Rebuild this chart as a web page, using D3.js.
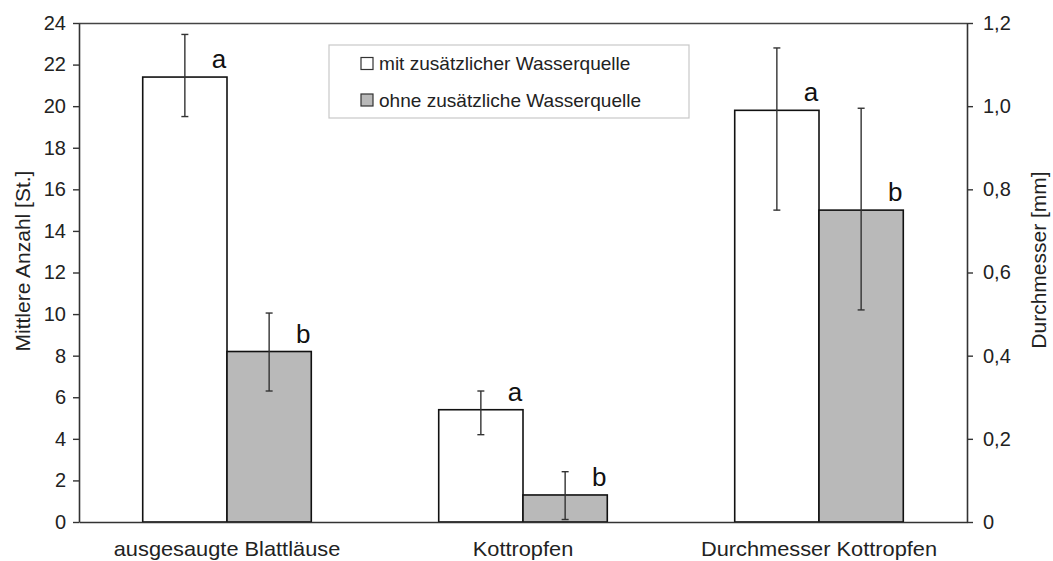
<!DOCTYPE html>
<html>
<head>
<meta charset="utf-8">
<script src="https://cdn.jsdelivr.net/npm/d3@7"></script>
<style>
  body { margin: 0; background: #fff; }
  svg { font-family: "Liberation Sans", Arial, sans-serif; }
</style>
</head>
<body>
<svg id="chart" width="1053" height="561"></svg>
<script>
// chart values
const categories = ["ausgesaugte Blattläuse", "Kottropfen", "Durchmesser Kottropfen"];
const series = ["mit zusätzlicher Wasserquelle", "ohne zusätzliche Wasserquelle"];
const categoryAxis = ["left", "left", "right"];

const withWater = [21.4, 5.4, 0.99];
const withWaterHigh = [23.45, 6.3, 1.14];
const withWaterLow = [19.5, 4.2, 0.75];
const withWaterLetters = ["a", "a", "a"];

const withoutWater = [8.2, 1.3, 0.75];
const withoutWaterHigh = [10.05, 2.42, 0.995];
const withoutWaterLow = [6.3, 0.12, 0.51];
const withoutWaterLetters = ["b", "b", "b"];

const leftTicks = [0, 2, 4, 6, 8, 10, 12, 14, 16, 18, 20, 22, 24];
const rightTicks = [0, 0.2, 0.4, 0.6, 0.8, 1.0, 1.2];

const leftTitle = "Mittlere Anzahl [St.]";
const rightTitle = "Durchmesser [mm]";

const seriesColors = ["#ffffff", "#b9b9b9"];

const svg = d3.select("#chart");
const plotLeft = 79, plotRight = 967, plotTop = 23, plotBottom = 522;

const x0 = d3.scaleBand().domain(categories).range([plotLeft, plotRight]).padding(0);
const x1 = d3.scaleBand().domain(series).range([0, x0.bandwidth()]).paddingInner(0).paddingOuter(0.756);
const yLeft = d3.scaleLinear().domain([0, 24]).range([plotBottom, plotTop]);
const yRight = d3.scaleLinear().domain([0, 1.2]).range([plotBottom, plotTop]);

// one record per bar
const bars = [];
categories.forEach((c, i) => {
    bars.push({cat: c, s: series[0], v: withWater[i], hi: withWaterHigh[i], lo: withWaterLow[i],
        letter: withWaterLetters[i], axis: categoryAxis[i], color: seriesColors[0]});
    bars.push({cat: c, s: series[1], v: withoutWater[i], hi: withoutWaterHigh[i], lo: withoutWaterLow[i],
        letter: withoutWaterLetters[i], axis: categoryAxis[i], color: seriesColors[1]});
});
const yOf = d => d.axis === "right" ? yRight : yLeft;

// top frame line
svg.append("line")
    .attr("x1", plotLeft).attr("x2", plotRight)
    .attr("y1", plotTop + 0.5).attr("y2", plotTop + 0.5)
    .attr("stroke", "#444").attr("stroke-width", 1.5);

// bars
svg.selectAll("rect.bar")
    .data(bars)
    .enter()
    .append("rect")
    .attr("class", "bar")
    .attr("x", d => x0(d.cat) + x1(d.s))
    .attr("y", d => yOf(d)(d.v))
    .attr("width", x1.bandwidth())
    .attr("height", d => yOf(d)(0) - yOf(d)(d.v))
    .attr("fill", d => d.color)
    .attr("stroke", "#111")
    .attr("stroke-width", 1.6);

// error bars
const err = svg.selectAll("g.err")
    .data(bars)
    .enter()
    .append("g")
    .attr("class", "err")
    .attr("stroke", "#333")
    .attr("stroke-width", 1.4);
const cx = d => x0(d.cat) + x1(d.s) + x1.bandwidth() / 2;
err.append("line")
    .attr("x1", cx).attr("x2", cx)
    .attr("y1", d => yOf(d)(d.hi)).attr("y2", d => yOf(d)(d.lo));
err.append("line")
    .attr("x1", d => cx(d) - 3.5).attr("x2", d => cx(d) + 3.5)
    .attr("y1", d => yOf(d)(d.hi)).attr("y2", d => yOf(d)(d.hi));
err.append("line")
    .attr("x1", d => cx(d) - 3.5).attr("x2", d => cx(d) + 3.5)
    .attr("y1", d => yOf(d)(d.lo)).attr("y2", d => yOf(d)(d.lo));

// significance letters
svg.selectAll("text.letter")
    .data(bars)
    .enter()
    .append("text")
    .attr("class", "letter")
    .attr("x", d => x0(d.cat) + x1(d.s) + x1.bandwidth() - 8)
    .attr("y", d => yOf(d)(d.v) - 9)
    .attr("text-anchor", "middle")
    .style("font-size", "26px")
    .attr("fill", "#111")
    .text(d => d.letter);

// axes
const leftAxis = svg.append("g")
    .attr("transform", `translate(${plotLeft},0)`)
    .call(d3.axisLeft(yLeft).tickValues(leftTicks).tickSize(6).tickSizeOuter(0).tickPadding(7));
const rightAxis = svg.append("g")
    .attr("transform", `translate(${plotRight},0)`)
    .call(d3.axisRight(yRight).tickValues(rightTicks).tickSize(6).tickSizeOuter(0).tickPadding(10)
        .tickFormat(d => d === 0 ? "0" : d3.format(".1f")(d).replace(".", ",")));
const bottomAxis = svg.append("g")
    .attr("transform", `translate(0,${plotBottom})`)
    .call(d3.axisBottom(x0).tickSize(0).tickPadding(20));

[leftAxis, rightAxis, bottomAxis].forEach(g => {
    g.select(".domain").attr("stroke", "#333").attr("stroke-width", 1.6);
    g.selectAll(".tick line").attr("stroke", "#333").attr("stroke-width", 1.4);
    g.selectAll("text").attr("fill", "#222").style("font-family", "Liberation Sans, Arial, sans-serif");
});
leftAxis.selectAll("text").style("font-size", "20px");
rightAxis.selectAll("text").style("font-size", "20px");
// category labels are a bit wider in the original
bottomAxis.selectAll("text").style("font-size", "20px").attr("transform", "scale(1.09,1)");

// axis titles
svg.append("text")
    .attr("transform", `translate(30,261) rotate(-90)`)
    .attr("text-anchor", "middle")
    .style("font-size", "21px")
    .attr("fill", "#222")
    .text(leftTitle);
svg.append("text")
    .attr("transform", `translate(1046,260) rotate(-90)`)
    .attr("text-anchor", "middle")
    .style("font-size", "21px")
    .attr("fill", "#222")
    .text(rightTitle);

// legend
const legend = svg.append("g").attr("transform", "translate(329,45)");
legend.append("rect")
    .attr("width", 360).attr("height", 73)
    .attr("fill", "#fff").attr("stroke", "#c8c8c8").attr("stroke-width", 1.2);
const item = legend.selectAll("g.item")
    .data(series)
    .enter()
    .append("g")
    .attr("class", "item")
    .attr("transform", (d, i) => `translate(32,${19 + i * 36.5})`);
item.append("rect")
    .attr("x", 0).attr("y", -6.5)
    .attr("width", 12).attr("height", 12)
    .attr("fill", (d, i) => seriesColors[i])
    .attr("stroke", "#333").attr("stroke-width", 1.2);
item.append("text")
    .attr("x", 18).attr("y", 6)
    .attr("transform", "translate(18,0) scale(1.06,1) translate(-18,0)")
    .style("font-size", "18px")
    .attr("fill", "#222")
    .text(d => d);
</script>
</body>
</html>
